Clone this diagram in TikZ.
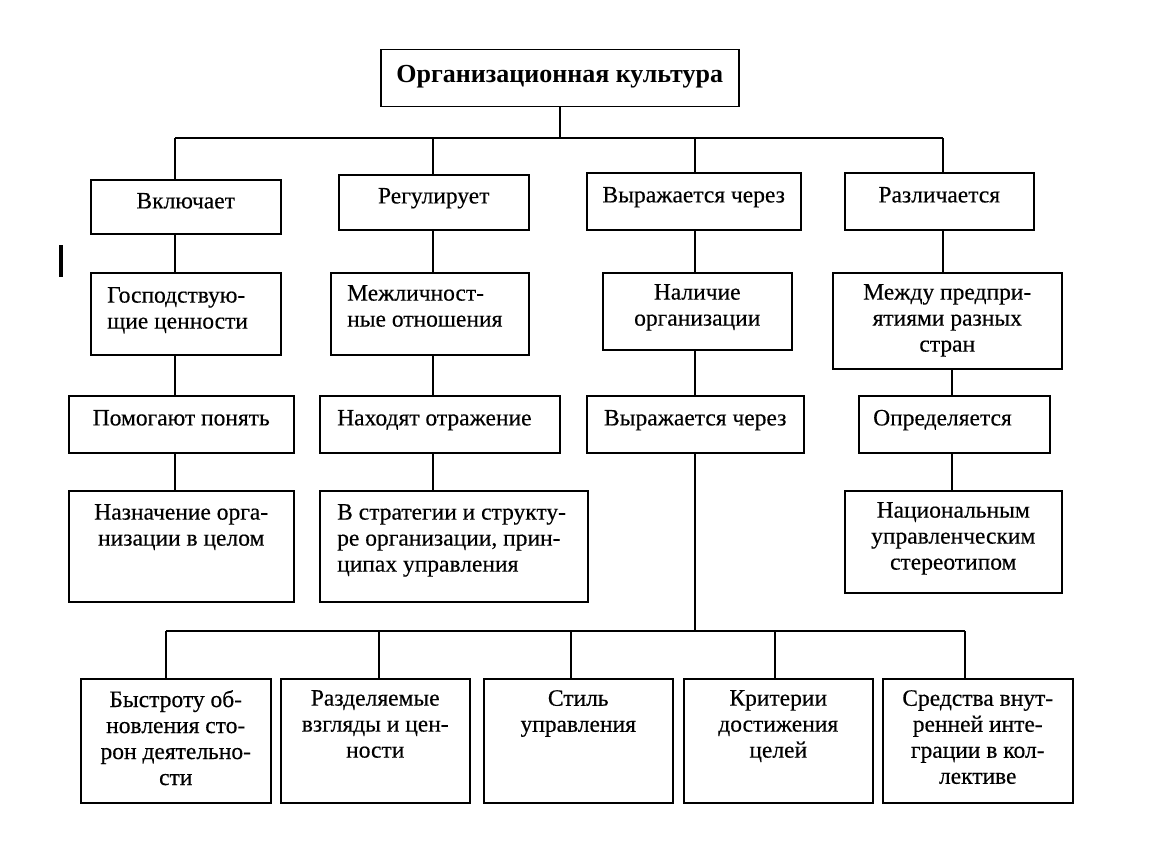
\documentclass[tikz,border=0pt]{standalone}
\usepackage{fontspec}
\setmainfont{Liberation Serif}[UprightFeatures={FakeBold=0.35}]
\newcommand\mybox[5]{\node[box, minimum width={#4-#2}, minimum height={#5-#3}] (#1) at (#2,#3) {};}
\newcommand\ctx[3]{\node[txt, anchor=north] (#1t) at ([yshift=-#2pt]#1.north) {#3};}
\newcommand\ltx[4]{\node[txt, anchor=north west, align=left] (#1t) at ([xshift=#3pt,yshift=-#2pt]#1.north west) {#4};}
\begin{document}
\begin{tikzpicture}[x=1pt,y=-1pt,
  box/.style={draw, line width=1.5pt, inner sep=0pt, anchor=north west},
  txt/.style={inner sep=0pt, align=center, font=\fontsize{23.5}{26}\selectfont, execute at begin node=\strut},
  ln/.style={line width=1.5pt}]
\useasboundingbox[fill=white] (0,0) rectangle (1150,864);
% boxes
\mybox{top}{380}{49}{738}{106}
\mybox{b11}{90}{179}{280}{233}
\mybox{b12}{338}{174}{528}{229}
\mybox{b13}{586}{172}{800}{229}
\mybox{b14}{844}{172}{1033}{229}
\mybox{b21}{90}{272}{280}{354}
\mybox{b22}{330}{272}{528}{354}
\mybox{b23}{602}{272}{791}{349}
\mybox{b24}{832}{272}{1061}{368}
\mybox{b31}{68}{395}{293}{452}
\mybox{b32}{319}{395}{559}{452}
\mybox{b33}{586}{395}{803}{452}
\mybox{b34}{858}{395}{1049}{452}
\mybox{b41}{68}{490}{293}{601}
\mybox{b42}{319}{490}{587}{601}
\mybox{b44}{844}{490}{1061}{592}
\mybox{b51}{80}{678}{270}{802}
\mybox{b52}{280}{678}{469}{802}
\mybox{b53}{483}{678}{672}{802}
\mybox{b54}{683}{678}{872}{802}
\mybox{b55}{882}{678}{1072}{802}
% texts
\node[txt, anchor=north, font=\fontsize{26}{29}\selectfont\bfseries] (topt) at ([yshift=-13pt]top.north) {Организационная культура};
\ctx{b11}{11}{Включает}
\ctx{b12}{11}{Регулирует}
\ctx{b13}{12}{Выражается через}
\ctx{b14}{12}{Различается}
\ltx{b21}{15}{17}{Господствую-\\щие ценности}
\ltx{b22}{13}{17}{Межличност-\\ные отношения}
\ctx{b23}{12}{Наличие\\организации}
\ctx{b24}{12}{Между предпри-\\ятиями разных\\стран}
\ctx{b31}{12}{Помогают понять}
\ltx{b32}{12}{18}{Находят отражение}
\ctx{b33}{12}{Выражается через}
\ltx{b34}{12}{15}{Определяется}
\ctx{b41}{14}{Назначение орга-\\низации в целом}
\ltx{b42}{14}{18}{В стратегии и структу-\\ре организации, прин-\\ципах управления}
\ctx{b44}{12}{Национальным\\управленческим\\стереотипом}
\ctx{b51}{12}{Быстроту об-\\новления сто-\\рон деятельно-\\сти}
\ctx{b52}{12}{Разделяемые\\взгляды и цен-\\ности}
\ctx{b53}{12}{Стиль\\управления}
\ctx{b54}{12}{Критерии\\достижения\\целей}
\ctx{b55}{12}{Средства внут-\\ренней инте-\\грации в кол-\\лективе}
% junction coordinates
\coordinate (h1) at (175,138);
\coordinate (h2) at (433,138);
\coordinate (h3) at (695,138);
\coordinate (h4) at (943,138);
\coordinate (v4) at (952,0);
\coordinate (km) at (695,631);
\coordinate (k1) at (166,631);
\coordinate (k2) at (379,631);
\coordinate (k3) at (571,631);
\coordinate (k4) at (775,631);
\coordinate (k5) at (965,631);
% connectors
\draw[ln] (top.south) -- (top.south |- h1);
\draw[ln] (h1) -- (h4);
\draw[ln] (h1) -- (h1 |- b11.north);
\draw[ln] (h2) -- (h2 |- b12.north);
\draw[ln] (h3) -- (h3 |- b13.north);
\draw[ln] (h4) -- (h4 |- b14.north);
\draw[ln] (b11.south -| h1) -- (b21.north -| h1);
\draw[ln] (b21.south -| h1) -- (b31.north -| h1);
\draw[ln] (b31.south -| h1) -- (b41.north -| h1);
\draw[ln] (b12.south -| h2) -- (b22.north -| h2);
\draw[ln] (b22.south -| h2) -- (b32.north -| h2);
\draw[ln] (b32.south -| h2) -- (b42.north -| h2);
\draw[ln] (b13.south -| h3) -- (b23.north -| h3);
\draw[ln] (b23.south -| h3) -- (b33.north -| h3);
\draw[ln] (b33.south -| km) -- (km);
\draw[ln] (b14.south -| h4) -- (b24.north -| h4);
\draw[ln] (b24.south -| v4) -- (b34.north -| v4);
\draw[ln] (b34.south -| v4) -- (b44.north -| v4);
\draw[ln] (k1) -- (k5);
\draw[ln] (k1) -- (k1 |- b51.north);
\draw[ln] (k2) -- (k2 |- b52.north);
\draw[ln] (k3) -- (k3 |- b53.north);
\draw[ln] (k4) -- (k4 |- b54.north);
\draw[ln] (k5) -- (k5 |- b55.north);
% stray mark
\coordinate (m1) at (61,245);
\coordinate (m2) at (61,277);
\draw[line width=3.5pt] (m1) -- (m2);
\end{tikzpicture}
\end{document}
